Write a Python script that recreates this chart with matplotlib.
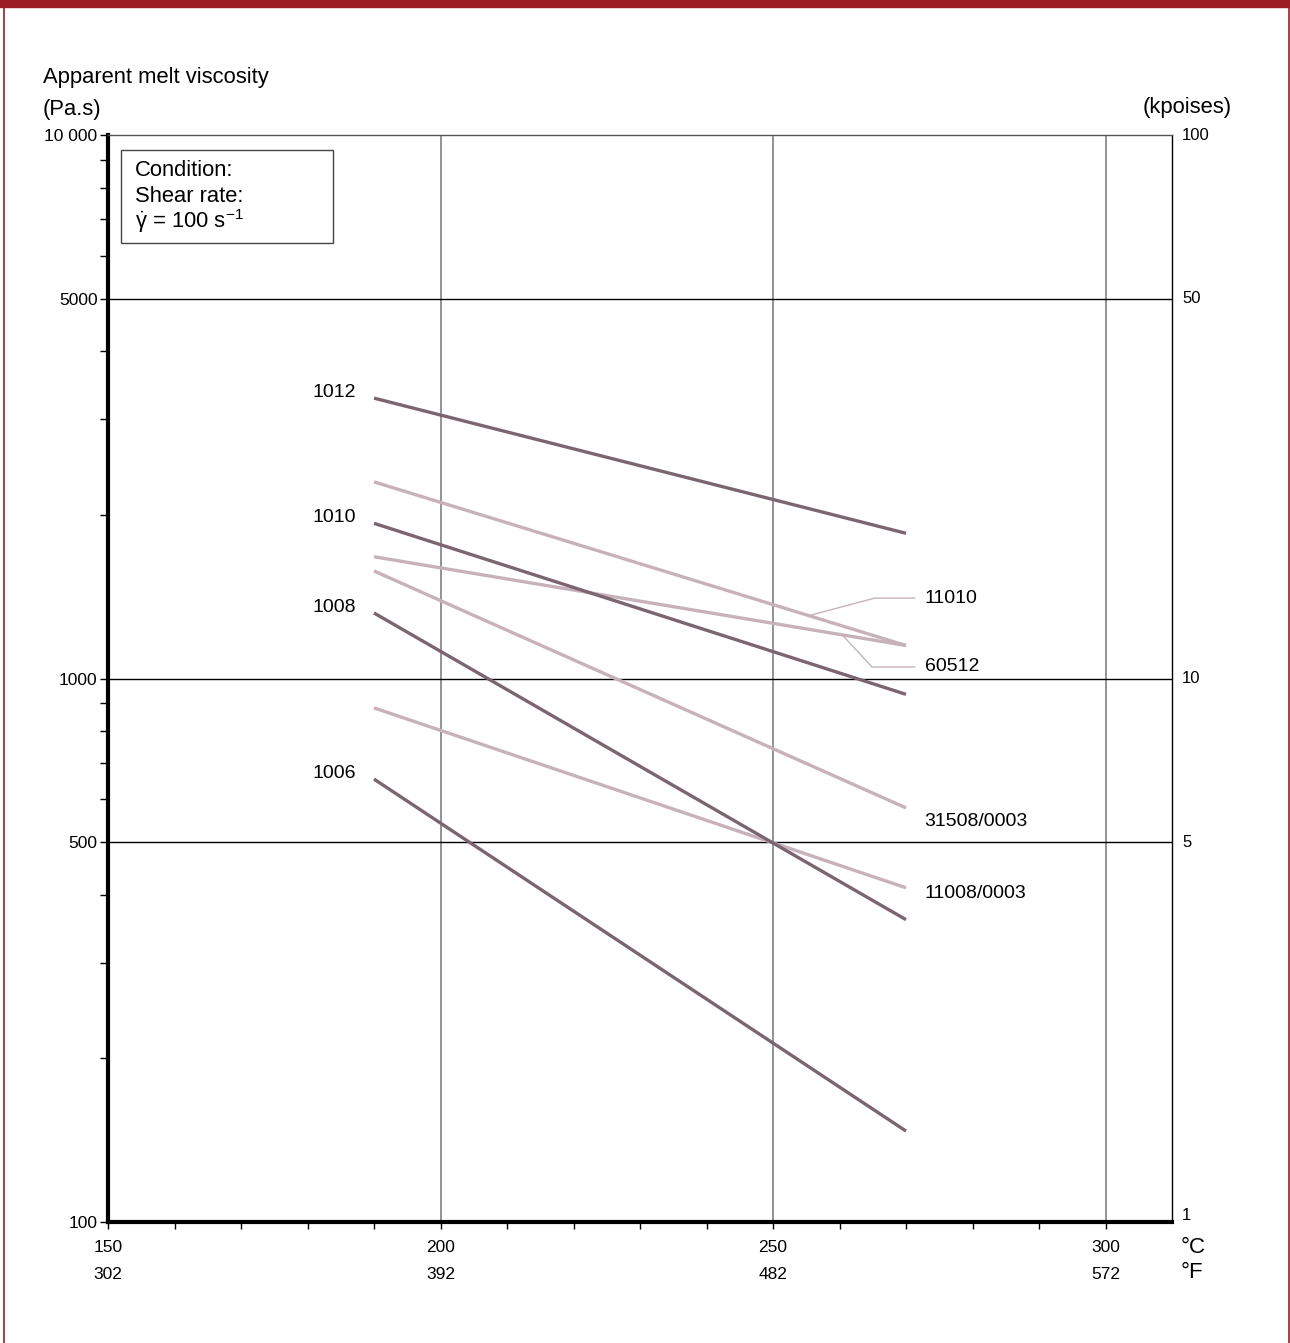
import numpy as np
import matplotlib
matplotlib.use("Agg")
import matplotlib.pyplot as plt
from matplotlib.patches import Rectangle
import matplotlib.transforms as mtransforms

plt.rcParams['font.family'] = ['Liberation Sans', 'DejaVu Sans']
plt.rcParams['mathtext.fontset'] = 'custom'
plt.rcParams['mathtext.rm'] = 'Liberation Sans'
plt.rcParams['mathtext.it'] = 'Liberation Sans'

# Datos (temperatura en °C, viscosidad en Pa.s)
temp = [190, 270]
grados = ['1012', '1010', '1008', '1006']
visc_oscuras = [
    [3280, 1850],
    [1930, 935],
    [1320, 360],
    [653, 147],
]
grados_claros = ['11010', '60512', '31508/0003', '11008/0003']
visc_claras = [
    [2300, 1150],
    [1675, 1150],
    [1577, 578],
    [883, 412],
]

ticks_c = [150, 200, 250, 300]
ticks_f = [302, 392, 482, 572]
ticks_pas = [100, 500, 1000, 5000, 10000]
etiquetas_pas = ['100', '500', '1000', '5000', '10 000']
etiquetas_kp = ['1', '5', '10', '50', '100']

oscuro = '#7a6570'
claro = '#c8b2ba'
rojo = '#9b1c22'

fig = plt.figure(figsize=(12.9, 13.43), dpi=100)

# Marco rojo
fig.patches.append(Rectangle((0, 1 - 7 / 1343), 1, 7 / 1343, transform=fig.transFigure,
                             color=rojo, zorder=0))
fig.lines.append(plt.Line2D([4 / 1290, 4 / 1290], [0, 1], transform=fig.transFigure, color=rojo, lw=1.2))
fig.lines.append(plt.Line2D([1288.5 / 1290, 1288.5 / 1290], [0, 1], transform=fig.transFigure, color=rojo, lw=1.2))

ax = fig.add_axes([108 / 1290, 1 - 1222 / 1343, (1172 - 108) / 1290, (1222 - 135) / 1343])
ax.set_yscale('log')
ax.set_xlim(150, 310)
ax.set_ylim(100, 10000)

ax.spines['left'].set_linewidth(3)
ax.spines['bottom'].set_linewidth(3)
ax.spines['right'].set_linewidth(1)
ax.spines['top'].set_linewidth(1)
ax.spines['top'].set_color('#555555')

# Rejilla
for t in ticks_c[1:]:
    ax.axvline(t, color='#808080', lw=1.2, zorder=1)
for v in [500, 1000, 5000]:
    ax.axhline(v, color='black', lw=1, zorder=1)

# Ejes
ax.set_yticks(ticks_pas)
ax.set_yticklabels(etiquetas_pas, fontsize=12.5)
ax.yaxis.set_minor_locator(matplotlib.ticker.LogLocator(base=10, subs=np.arange(2, 10)))
ax.yaxis.set_minor_formatter(matplotlib.ticker.NullFormatter())
ax.tick_params(axis='y', which='major', length=6, width=1, pad=1.5)
ax.tick_params(axis='y', which='minor', length=6, width=1)

ax.set_xticks(ticks_c)
ax.set_xticklabels([])
ax.set_xticks(np.arange(160, 310, 10), minor=True)
ax.tick_params(axis='x', which='both', length=5, width=1)

trans_x = mtransforms.blended_transform_factory(ax.transData, ax.transAxes)
for c, f in zip(ticks_c, ticks_f):
    ax.text(c, -0.023, str(c), transform=trans_x, ha='center', va='center', fontsize=12.5)
    ax.text(c, -0.048, str(f), transform=trans_x, ha='center', va='center', fontsize=12.5)
ax.text(1.0085, -0.023, '°C', transform=ax.transAxes, ha='left', va='center', fontsize=16)
ax.text(1.0085, -0.046, '°F', transform=ax.transAxes, ha='left', va='center', fontsize=16)

trans_y = mtransforms.blended_transform_factory(ax.transAxes, ax.transData)
for v, lab in zip(ticks_pas, etiquetas_kp):
    ax.text(1.0095, v * (1.03 if v == 100 else 1.0), lab, transform=trans_y, ha='left', va='center',
            fontsize=12)

fig.text(43 / 1290, 1 - 78 / 1343, 'Apparent melt viscosity', ha='left', va='center', fontsize=15.8)
fig.text(43 / 1290, 1 - 109 / 1343, '(Pa.s)', ha='left', va='center', fontsize=15.8)
fig.text(1187 / 1290, 1 - 107 / 1343, '(kpoises)', ha='center', va='center', fontsize=15.8)

# Cuadro de condiciones
fig.patches.append(Rectangle((121 / 1290, 1 - 243 / 1343), 212 / 1290, 93 / 1343,
                             transform=fig.transFigure, fill=False, edgecolor='#444444', lw=1))
fig.text(135 / 1290, 1 - 171 / 1343, 'Condition:', ha='left', va='center', fontsize=15.8)
fig.text(135 / 1290, 1 - 196 / 1343, 'Shear rate:', ha='left', va='center', fontsize=15.8)
fig.text(135 / 1290, 1 - 221 / 1343, r'$\dot{\gamma}$ = 100 s$^{-1}$', ha='left', va='center',
         fontsize=15.8)

# Curvas
for nombre, v in zip(grados, visc_oscuras):
    ax.plot(temp, v, color=oscuro, lw=2.4, solid_capstyle='butt', zorder=3)
    ax.text(187.3, v[0] * 1.025, nombre, ha='right', va='center', fontsize=14)

for nombre, v in zip(grados_claros, visc_claras):
    ax.plot(temp, v, color=claro, lw=2.4, solid_capstyle='butt', zorder=2)


def en_linea(v, x):
    lv = np.interp(x, temp, np.log10(v))
    return 10 ** lv


# Lineas guia
x_lab = 272.8
ax.plot([255.4, 265.3, 271.3], [en_linea(visc_claras[0], 255.4), 1406, 1406], color=claro, lw=1, zorder=2)
ax.text(x_lab, 1406, grados_claros[0], ha='left', va='center', fontsize=14)
ax.plot([260.4, 264.9, 271.3], [en_linea(visc_claras[1], 260.4), 1050, 1050], color=claro, lw=1, zorder=2)
ax.text(x_lab, 1050, grados_claros[1], ha='left', va='center', fontsize=14)
ax.text(x_lab, visc_claras[2][1] * 0.945, grados_claros[2], ha='left', va='center', fontsize=14)
ax.text(x_lab, visc_claras[3][1] * 0.975, grados_claros[3], ha='left', va='center', fontsize=14)

fig.savefig('out.png', dpi=100)
